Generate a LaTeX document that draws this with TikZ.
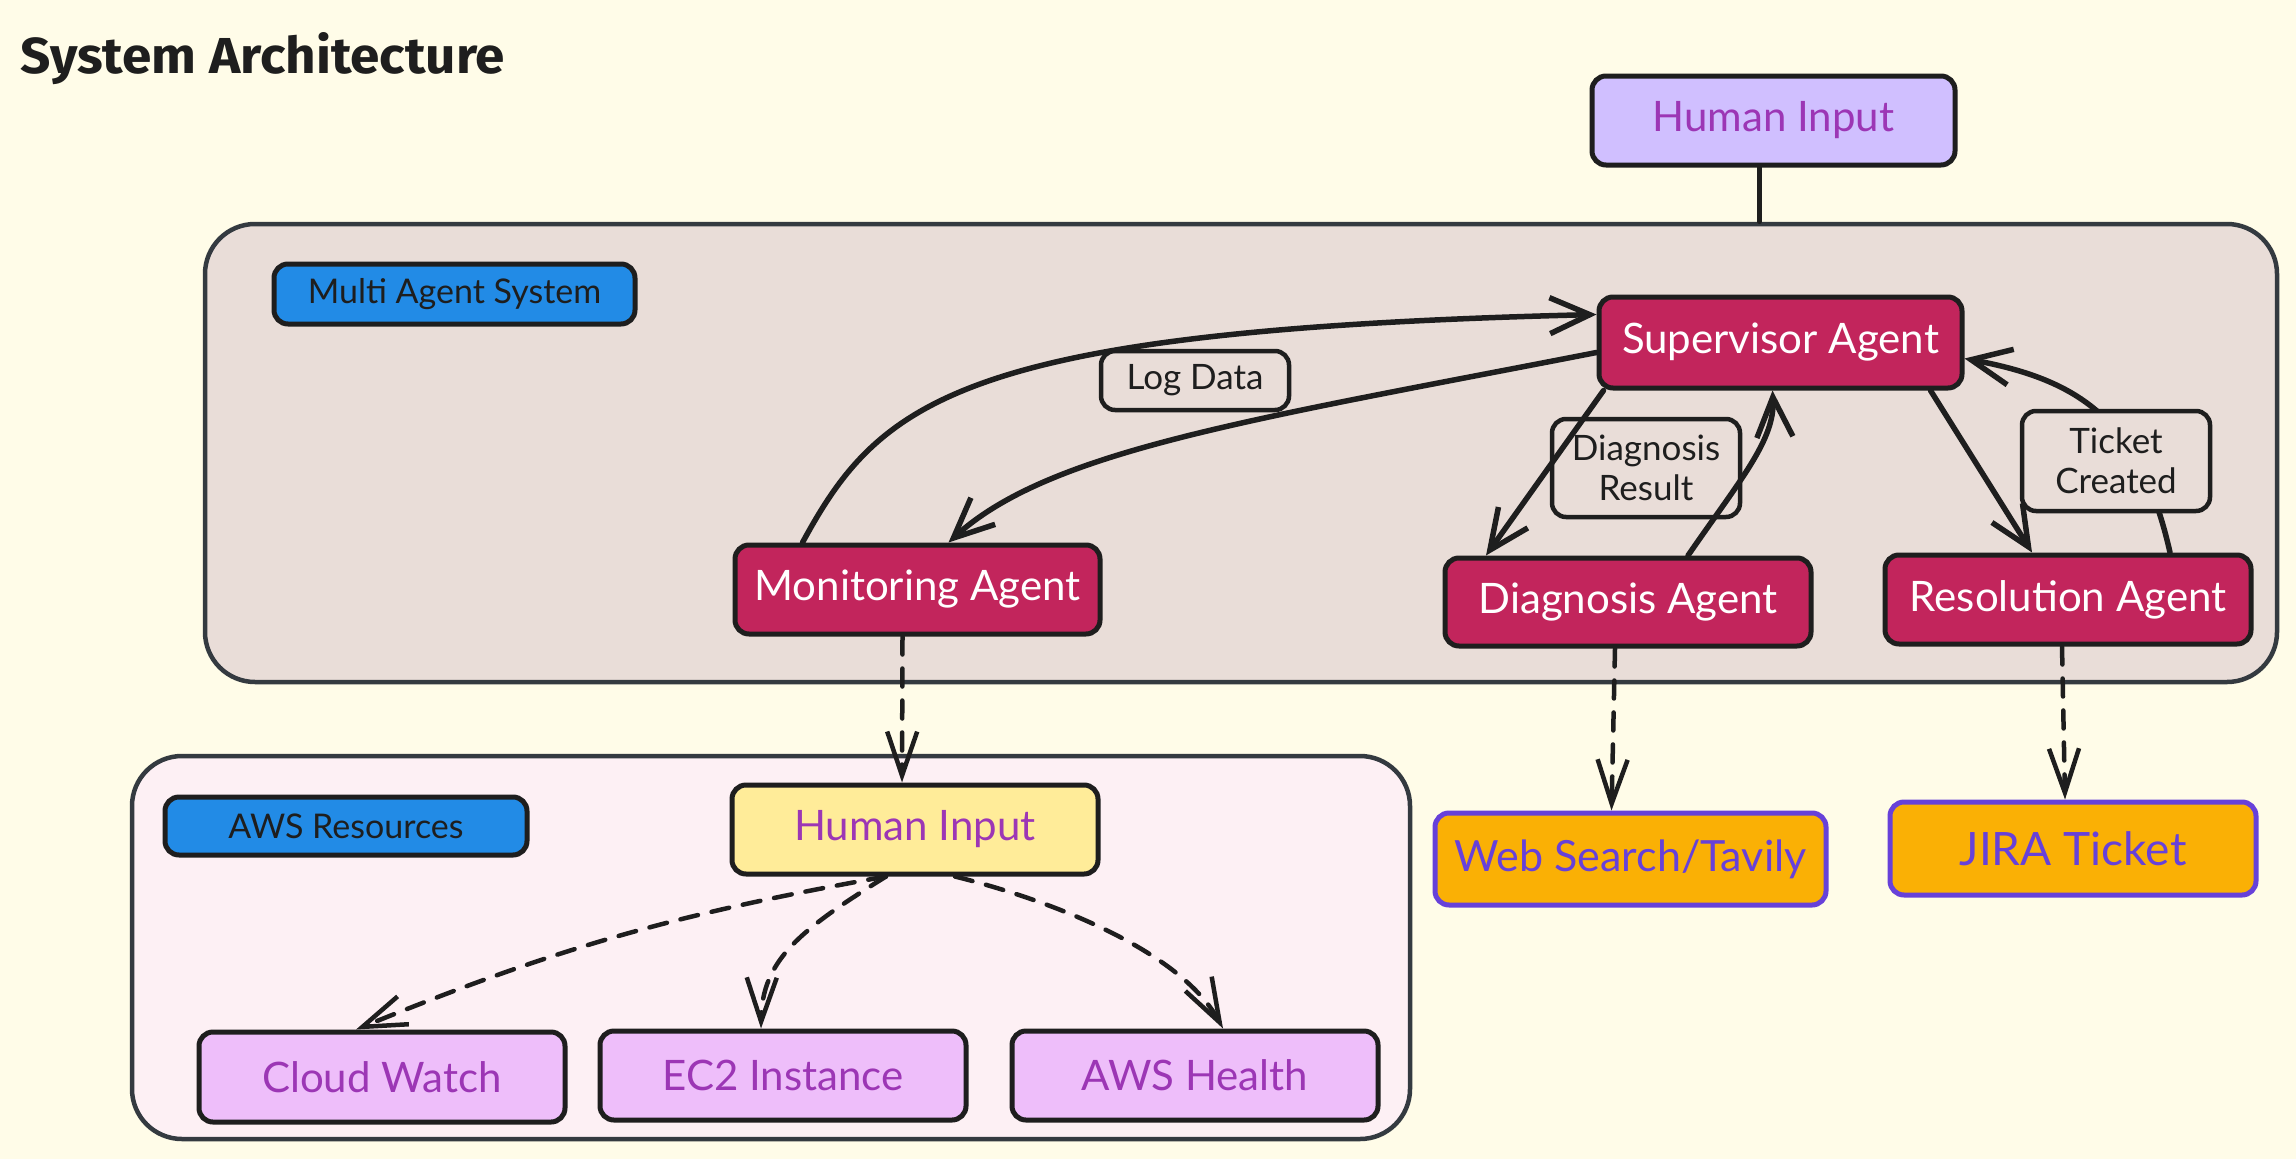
\documentclass[tikz,border=0pt]{standalone}
\usepackage{fontspec}
\setmainfont{Lato}
\newfontfamily\titlefont{Fira Sans}
\usetikzlibrary{arrows.meta}
\definecolor{bg}{HTML}{FFFCE8}
\definecolor{ink}{HTML}{1E1E1E}
\definecolor{framec}{HTML}{343A40}
\definecolor{masfill}{HTML}{E9DDD8}
\definecolor{awsfill}{HTML}{FDF0F4}
\definecolor{bluec}{HTML}{228BE6}
\definecolor{agentc}{HTML}{C2255C}
\definecolor{lavc}{HTML}{D0BFFF}
\definecolor{yelc}{HTML}{FFEC99}
\definecolor{pinkc}{HTML}{EEBEFA}
\definecolor{purpc}{HTML}{9C36B5}
\definecolor{orangec}{HTML}{FAB005}
\definecolor{violetc}{HTML}{6741D9}
\tikzset{
  box/.style={draw=ink, line width=5pt, rounded corners=14pt, inner sep=0pt, align=center},
  agent/.style={box, fill=agentc, text=white, font=\fontsize{42}{48}\selectfont},
  purplebox/.style={box, fill=pinkc, text=purpc, font=\fontsize{42}{48}\selectfont},
  tagbox/.style={box, fill=bluec, text=ink, font=\fontsize{34}{40}\selectfont},
  lblbox/.style={box, line width=4.5pt, text=ink, font=\fontsize{35}{40}\selectfont},
  extbox/.style={box, draw=violetc, fill=orangec, text=violetc, font=\fontsize{43}{48}\selectfont},
  framebox/.style={draw=framec, line width=4.5pt, rounded corners=50pt, inner sep=0pt},
  flow/.style={draw=ink, line width=5.5pt, line cap=round, -{Straight Barb[length=40pt,width=36pt]}},
  dflow/.style={draw=ink, line width=4.5pt, line cap=round, dash pattern=on 18pt off 14pt, -{Straight Barb[length=44pt,width=30pt]}}
}
\begin{document}
\begin{tikzpicture}[x=1pt,y=-1pt]
\fill[bg] (0,0) rectangle (2296,1159);
\useasboundingbox (0,0) rectangle (2296,1159);

% title
\node[anchor=north west, inner sep=0pt, text=ink] (title) at (20,32) {\resizebox{485pt}{41pt}{\titlefont\bfseries System Architecture}};

% containers
\node[framebox, fill=masfill, minimum width=2072pt, minimum height=458pt] (mas) at (1241,453) {};
\node[framebox, fill=awsfill, minimum width=1278pt, minimum height=383pt] (aws) at (771,947.5) {};

% nodes
\node[box, fill=lavc, text=purpc, font=\fontsize{42}{48}\selectfont, minimum width=363pt, minimum height=89pt] (hitop) at (1773.5,120.5) {Human Input};
\node[tagbox, minimum width=361pt, minimum height=60pt] (mastag) at (454.5,294) {Multi Agent System};
\node[agent, minimum width=363pt, minimum height=91pt] (sup) at (1780.5,342.5) {Supervisor Agent};
\node[lblbox, minimum width=188pt, minimum height=59pt] (logdata) at (1195,380.5) {Log Data};
\node[agent, minimum width=365pt, minimum height=89pt] (mon) at (917.5,589.5) {Monitoring Agent};
\node[lblbox, minimum width=188pt, minimum height=98pt] (diagres) at (1646,468) {Diagnosis\\Result};
\node[agent, minimum width=366pt, minimum height=88pt] (diag) at (1628,602) {Diagnosis Agent};
\node[agent, minimum width=366pt, minimum height=89pt] (res) at (2068,599.5) {Resolution Agent};

\node[tagbox, minimum width=362pt, minimum height=58pt] (awstag) at (346,826) {AWS Resources};
\node[box, fill=yelc, text=purpc, font=\fontsize{42}{48}\selectfont, minimum width=366pt, minimum height=89pt] (hiy) at (915,829.5) {Human Input};
\node[purplebox, minimum width=366pt, minimum height=90pt] (cw) at (382,1077) {Cloud Watch};
\node[purplebox, minimum width=366pt, minimum height=89pt] (ec2) at (783,1075.5) {EC2 Instance};
\node[purplebox, minimum width=366pt, minimum height=89pt] (awsh) at (1195,1075.5) {AWS Health};

\node[extbox, minimum width=391pt, minimum height=92pt] (web) at (1630.5,859) {Web Search/Tavily};
\node[extbox, font=\fontsize{46}{50}\selectfont, minimum width=366pt, minimum height=93pt] (jira) at (2073,848.5) {JIRA Ticket};

% connectors
\draw[draw=ink, line width=4.5pt, line cap=round] ([xshift=-14pt]hitop.south) -- ([xshift=-14pt]hitop.south |- mas.north);
\draw[flow] ([xshift=-115pt]mon.north) .. controls (880,400) and (960,330) .. ([yshift=28pt]sup.west);
\draw[flow] ([yshift=-10pt]sup.west) .. controls (1250,420) and (1050,450) .. ([xshift=31pt]mon.north);
\draw[flow] ([xshift=-177pt]sup.south) -- ([xshift=-142pt]diag.north);
\draw[flow] ([xshift=60pt]diag.north) .. controls (1740,480) and (1775,440) .. ([xshift=-8pt]sup.south);
\draw[flow] ([xshift=150pt]sup.south) -- ([xshift=-36pt]res.north);
\draw[flow] ([xshift=102pt]res.north) .. controls (2140,420) and (2080,380) .. ([yshift=-16pt]sup.east);

\node[lblbox, fill=masfill, minimum width=188pt, minimum height=100pt] (ticket) at (2116,461) {Ticket\\Created};

\draw[dflow] ([xshift=-15pt]mon.south) -- ([xshift=-13pt]hiy.north);
\draw[dflow] ([xshift=-13pt]diag.south) -- ([xshift=-19pt]web.north);
\draw[dflow] ([xshift=-6pt]res.south) -- ([xshift=-8pt]jira.north);
\draw[dflow] ([xshift=-29pt]hiy.south) to[bend right=6] ([xshift=-26pt]cw.north);
\draw[dflow] ([xshift=-29pt]hiy.south) .. controls (800,930) and (762,960) .. ([xshift=-22pt]ec2.north);
\draw[dflow] ([xshift=40pt]hiy.south) .. controls (1050,900) and (1180,950) .. ([xshift=28pt]awsh.north);
\end{tikzpicture}
\end{document}
